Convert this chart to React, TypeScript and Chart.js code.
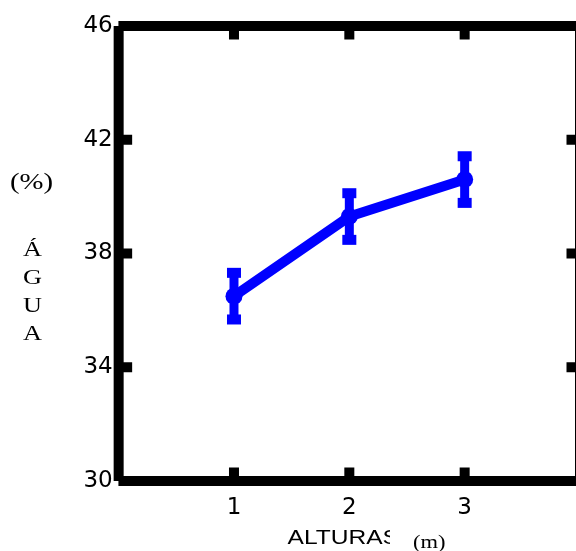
import React, { useEffect, useRef } from 'react';
import { Chart, registerables } from 'chart.js';

Chart.register(...registerables);

// ---- data ----
const heights = [1, 2, 3];
const agua = [36.5, 39.3, 40.6];
const aguaErr = [0.82, 0.82, 0.82];
const xTicks = [1, 2, 3];
const yTicks = [30, 34, 38, 42, 46];
const xRange = [0, 4];
const yRange = [30, 46];
const xTitle = 'ALTURAS';
const xUnit = '(m)';
const yUnit = '(%)';
const yTitleLetters = ['Á', 'G', 'U', 'A'];

const BLUE = '#0000ff';
const BLACK = '#000000';
const SX = 1.25;
const AREA = { left: 118.65, right: 580, top: 26, bottom: 481 };
const H = 551;

function stretchText(ctx: CanvasRenderingContext2D, text: string, x: number, y: number, align: CanvasTextAlign, font: string, sx: number) {
  ctx.save();
  ctx.font = font;
  ctx.textAlign = align;
  ctx.textBaseline = 'alphabetic';
  ctx.fillStyle = BLACK;
  ctx.translate(x, y);
  ctx.scale(sx, 1);
  ctx.fillText(text, 0, 0);
  ctx.restore();
}

const framePlugin = {
  id: 'frameTicks',
  afterLayout(chart: any) {
    const ca = chart.chartArea;
    ca.left = AREA.left; ca.right = AREA.right; ca.top = AREA.top; ca.bottom = AREA.bottom;
    ca.width = AREA.right - AREA.left; ca.height = AREA.bottom - AREA.top;
    const x = chart.scales.x;
    x.left = AREA.left; x.right = AREA.right; x.width = AREA.right - AREA.left;
    x.top = AREA.bottom; x.bottom = H; x.height = H - AREA.bottom;
    const y = chart.scales.y;
    y.left = 0; y.right = AREA.left; y.width = AREA.left;
    y.top = AREA.top; y.bottom = AREA.bottom; y.height = AREA.bottom - AREA.top;
    x.configure();
    y.configure();
  },
  beforeDatasetsDraw(chart: any) {
    const { ctx } = chart;
    const x = chart.scales.x;
    const y = chart.scales.y;
    const x0 = x.getPixelForValue(xRange[0]);
    const x1 = x.getPixelForValue(xRange[1]);
    const y0 = y.getPixelForValue(yRange[0]);
    const y1 = y.getPixelForValue(yRange[1]);
    ctx.save();
    ctx.strokeStyle = BLACK;
    ctx.lineWidth = 10;
    ctx.lineCap = 'butt';
    ctx.beginPath();
    ctx.moveTo(x0, y0); ctx.lineTo(x0, y1);
    ctx.moveTo(x0, y0); ctx.lineTo(x1, y0);
    ctx.moveTo(x0, y1); ctx.lineTo(x1, y1);
    ctx.moveTo(x1, y0); ctx.lineTo(x1, y1);
    ctx.stroke();
    const tl = 13.5;
    ctx.beginPath();
    xTicks.forEach((v) => {
      const px = x.getPixelForValue(v);
      ctx.moveTo(px, y0); ctx.lineTo(px, y0 - tl);
      ctx.moveTo(px, y1); ctx.lineTo(px, y1 + tl);
    });
    yTicks.forEach((v) => {
      const py = y.getPixelForValue(v);
      ctx.moveTo(x0, py); ctx.lineTo(x0 + tl, py);
      ctx.moveTo(x1, py); ctx.lineTo(x1 - tl, py);
    });
    ctx.stroke();
    ctx.restore();
  },
  afterDatasetsDraw(chart: any) {
    const { ctx } = chart;
    const x = chart.scales.x;
    const y = chart.scales.y;
    ctx.save();
    ctx.fillStyle = BLUE;
    ctx.strokeStyle = BLUE;
    ctx.lineWidth = 9;
    ctx.lineCap = 'butt';
    heights.forEach((h, i) => {
      const px = x.getPixelForValue(h);
      const top = y.getPixelForValue(agua[i] + aguaErr[i]);
      const bot = y.getPixelForValue(agua[i] - aguaErr[i]);
      ctx.beginPath();
      ctx.moveTo(px, top); ctx.lineTo(px, bot);
      ctx.stroke();
      ctx.fillRect(px - 7, top - 5, 14, 10);
      ctx.fillRect(px - 7, bot - 5, 14, 10);
    });
    ctx.restore();
  },
  afterDraw(chart: any) {
    const { ctx } = chart;
    stretchText(ctx, yUnit, 31.5, 189, 'center', '23px "Liberation Serif"', SX);
    const baselines = [255.5, 284, 312, 340];
    yTitleLetters.forEach((l, i) => {
      stretchText(ctx, l, 32.5, baselines[i], 'center', '21px "Liberation Serif"', SX);
    });
    ctx.save();
    ctx.beginPath();
    ctx.rect(0, 486, 390, 80);
    ctx.clip();
    stretchText(ctx, xTitle, 287.5, 543.5, 'left', '19.5px "Liberation Sans"', 1.26);
    ctx.restore();
    stretchText(ctx, xUnit, 413, 548, 'left', '18px "Liberation Serif"', SX);
  },
};

export default function App() {
  const ref = useRef<HTMLCanvasElement>(null);
  useEffect(() => {
    const chart = new Chart(ref.current as HTMLCanvasElement, {
      type: 'line',
      data: {
        datasets: [
          {
            data: heights.map((h, i) => ({ x: h, y: agua[i] })),
            borderColor: BLUE,
            backgroundColor: BLUE,
            borderWidth: 10,
            pointRadius: 8.5,
            pointBorderWidth: 0,
            pointBackgroundColor: BLUE,
            clip: false as any,
          },
        ],
      },
      options: {
        animation: false,
        responsive: true,
        maintainAspectRatio: false,
        layout: { padding: { top: 26, right: 0, left: 0, bottom: 0 } },
        plugins: { legend: { display: false }, tooltip: { enabled: false } },
        scales: {
          x: {
            type: 'linear',
            min: xRange[0],
            max: xRange[1],
            grid: { display: false, drawTicks: false },
            border: { display: false },
            afterBuildTicks: (scale: any) => { scale.ticks = xTicks.map((v) => ({ value: v })); },
            afterFit: (scale: any) => { scale.height = 70; },
            ticks: { color: BLACK, padding: 13, font: { family: '"DejaVu Sans"', size: 23 }, maxRotation: 0 },
          },
          y: {
            type: 'linear',
            min: yRange[0],
            max: yRange[1],
            grid: { display: false, drawTicks: false },
            border: { display: false },
            afterBuildTicks: (scale: any) => { scale.ticks = yTicks.map((v) => ({ value: v })); },
            afterFit: (scale: any) => { scale.width = 118.65; },
            ticks: { color: BLACK, padding: 6, font: { family: '"DejaVu Sans"', size: 23 } },
          },
        },
      },
      plugins: [framePlugin],
    });
    return () => chart.destroy();
  }, []);
  return (
    <div style={{ position: 'fixed', left: 0, top: 0, width: 576, height: 551, background: '#ffffff' }}>
      <canvas ref={ref} />
    </div>
  );
}
